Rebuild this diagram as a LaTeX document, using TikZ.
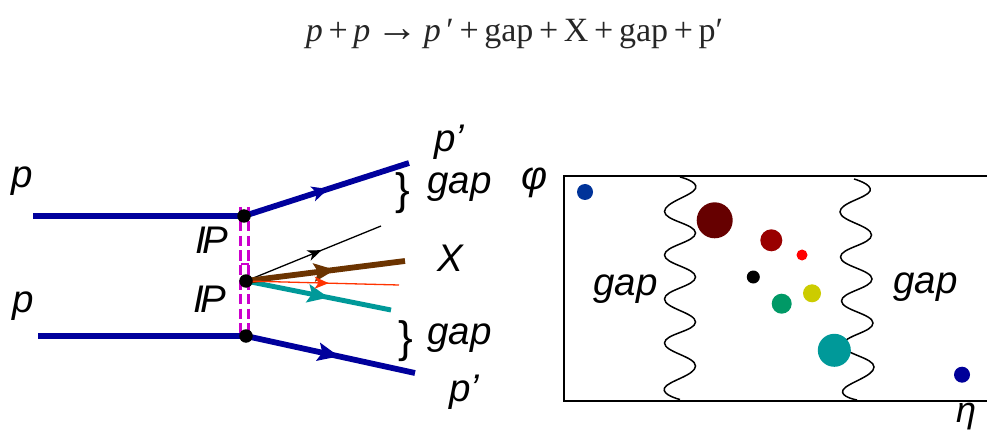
\documentclass[tikz,border=0pt]{standalone}
\usepackage{fontspec}
\setmainfont{Liberation Serif}
\setsansfont{Liberation Sans}
\usetikzlibrary{arrows.meta,decorations.markings}
\definecolor{pblue}{HTML}{00009C}
\definecolor{pmag}{HTML}{CC00CC}
\definecolor{pbrown}{HTML}{6B3300}
\definecolor{pteal}{HTML}{009999}
\definecolor{pred}{HTML}{FF3300}
\tikzset{
 lab/.style={font=\sffamily\itshape\fontsize{38.5}{40}\selectfont,text=black,inner sep=0pt},
 vtx/.style={circle,fill=black,inner sep=0pt,minimum size=13.5pt},
 blob/.style={circle,inner sep=0pt,minimum size=#1},
 wig/.style={line width=1.5pt,black},
 mid/.style n args={3}{postaction={decorate},decoration={markings,mark=at position #1 with {\arrow{Stealth[length=#2,width=#3,inset=4pt]}}}},
 prot/.style={pblue,line width=5.8pt},
 pom/.style={pmag,line width=3pt,dash pattern=on 10pt off 4.5pt},
}
\begin{document}
\begin{tikzpicture}[x=1pt,y=-1pt]
\useasboundingbox[fill=white] (0,0) rectangle (987,430);
\node[inner sep=0pt,font=\fontsize{34}{36}\selectfont,text=black!85] (eq) at (514.5,34) {\textit{p}\,+\,\textit{p}\,{\fontsize{42}{36}\selectfont →}\,\textit{p}\,′\,+\,gap\,+\,X\,+\,gap\,+\,p′};
% vertices
\coordinate (t1) at (240.6,207); \coordinate (t2) at (240.6,333);
\coordinate (u1) at (248.8,207); \coordinate (u2) at (248.8,333);
\draw[pom] (t1) -- (t2);
\draw[pom] (u1) -- (u2);
\coordinate (h1) at (241,264); \coordinate (h2) at (249,264);
\draw[pmag,line width=2pt] (h1) -- (h2);
\coordinate (a0) at (33,216); \coordinate (b0) at (38,336);
\coordinate (va) at (244,216); \coordinate (vm) at (246,281); \coordinate (vb) at (246,336);
\coordinate (a1) at (409,163); \coordinate (b1) at (415,373);
\coordinate (k1) at (381,226); \coordinate (br1) at (405,261);
\coordinate (r1) at (399,285); \coordinate (te1) at (391,310);
\draw[prot] (a0) -- (va);
\draw[prot] (b0) -- (vb);
\draw[prot,mid={0.51}{16pt}{15pt}] (va) -- (a1);
\draw[prot,mid={0.55}{21pt}{18pt}] (vb) -- (b1);
\draw[black,line width=1.3pt,mid={0.56}{14pt}{11pt}] (vm) -- (k1);
\draw[pteal,line width=5pt,mid={0.57}{21pt}{18pt}] (vm) -- (te1);
\draw[pbrown,line width=5.8pt,mid={0.56}{21pt}{18pt}] (vm) -- (br1);
\draw[pred,line width=1.3pt,mid={0.54}{14pt}{12pt}] (vm) -- (r1);
\node[vtx] (nva) at (va) {};
\node[vtx] (nvm) at (vm) {};
\node[vtx] (nvb) at (vb) {};
% labels left
\node[lab] (lp1) at (22,181) {p};
\node[lab] (lp2) at (23.5,306) {p};
\node[lab] (lP1) at (212,240) {I\kern-4pt P};
\node[lab] (lP2) at (210,299) {I\kern-4pt P};
\node[lab] (lp3) at (449,142) {p’};
\node[lab] (lg1) at (459.5,187.5) {gap};
\node[lab] (lX) at (450,258) {X};
\node[lab] (lg2) at (459.5,338.5) {gap};
\node[lab] (lp4) at (464,392) {p’};
\node[font=\sffamily\fontsize{44}{46}\selectfont,inner sep=0pt] (b1r) at (403,193) {\}};
\node[font=\sffamily\fontsize{44}{46}\selectfont,inner sep=0pt] (b2r) at (406,341) {\}};
% panel
\coordinate (c1) at (987,175.7); \coordinate (c2) at (564.3,175.7);
\coordinate (c3) at (564.3,400.7); \coordinate (c4) at (987,400.7);
\draw[black,line width=1.8pt] (c1) -- (c2) -- (c3) -- (c4);
\draw[wig] plot[smooth,tension=0.75] coordinates {(680,177) (695.5,188.5) (664.5,211.5) (695.5,233) (664.5,255) (695.5,277) (664.5,299) (695.5,322) (664.5,343) (695.5,366) (664.5,388) (680,399.5)};
\draw[wig] plot[smooth,tension=0.75] coordinates {(854,179) (870,191) (840,212) (871.5,235) (840.5,257) (872,279) (841.5,301) (873,323) (843,345) (874,367) (843,390) (857,400)};
\node[blob=16pt,fill={rgb,255:red,0;green,51;blue,153}] (d1) at (585,192) {};
\node[blob=36pt,fill={rgb,255:red,102;green,0;blue,0}] (d2) at (714.7,220.3) {};
\node[blob=22pt,fill={rgb,255:red,153;green,0;blue,0}] (d3) at (771.3,240.3) {};
\node[blob=11pt,fill={rgb,255:red,255;green,0;blue,0}] (d4) at (802,255) {};
\node[blob=13pt,fill=black] (d5) at (753.3,277) {};
\node[blob=20pt,fill={rgb,255:red,0;green,153;blue,102}] (d6) at (781.7,303.7) {};
\node[blob=18pt,fill={rgb,255:red,204;green,204;blue,0}] (d7) at (812,293.3) {};
\node[blob=33pt,fill={rgb,255:red,0;green,153;blue,153}] (d8) at (834.3,350.3) {};
\node[blob=16pt,fill={rgb,255:red,0;green,0;blue,153}] (d9) at (962,374.7) {};
\node[lab,font=\sffamily\itshape\fontsize{40}{42}\selectfont] (phi) at (535,183) {φ};
\node[lab,font=\sffamily\itshape\fontsize{36}{38}\selectfont] (eta) at (966,416.5) {η};
\node[lab] (lg3) at (625.5,289) {gap};
\node[lab] (lg4) at (925.5,287) {gap};
\end{tikzpicture}
\end{document}
